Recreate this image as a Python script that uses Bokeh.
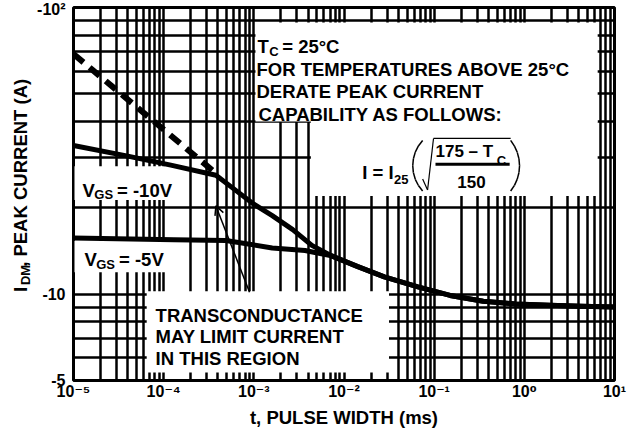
import math
from bokeh.plotting import figure
from bokeh.layouts import row
from bokeh.models import FixedTicker, Label, BoxAnnotation, Arrow, OpenHead
from bokeh.embed import file_html
from bokeh.resources import INLINE

# ---------------- data (t in ms, |I_DM| in A; axis shows negative currents) ----------------
t_vgs10 = [1e-5, 4e-5, 1.2e-4, 3.8e-4, 6e-4, 1e-3, 1.6e-3, 2.7e-3, 4.4e-3, 7.3e-3,
           1.4e-2, 2.8e-2, 6.6e-2, 0.15, 0.35, 0.8, 1.9, 4.3, 10]
i_vgs10 = [33.0, 30.3, 28.2, 26.0, 23.3, 20.6, 18.8, 16.8, 14.8, 13.6,
           12.5, 11.5, 10.6, 9.9, 9.45, 9.25, 9.15, 9.08, 9.02]

t_vgs5 = [1e-5, 1.3e-4, 4.9e-4, 1.6e-3, 3.7e-3, 7.3e-3,
          1.4e-2, 2.8e-2, 6.6e-2, 0.15, 0.35, 0.8, 1.9, 4.3, 10]
i_vgs5 = [15.7, 15.5, 15.4, 14.5, 14.2, 13.6,
          12.5, 11.5, 10.6, 9.9, 9.45, 9.25, 9.15, 9.08, 9.02]

t_transcond = [1e-5, 3.8e-4]
i_transcond = [68.8, 26.4]

x_ticks = [1e-5, 1e-4, 1e-3, 1e-2, 1e-1, 1e0, 1e1]
x_tick_labels = ["10\u207b\u2075", "10\u207b\u2074", "10\u207b\u00b3", "10\u207b\u00b2",
                 "10\u207b\u00b9", "10\u2070", "10\u00b9"]
y_ticks = [5, 10, 100]
y_tick_labels = ["-5", "-10", "-10\u00b2"]

x_minor = [m * d for d in [1e-5, 1e-4, 1e-3, 1e-2, 1e-1, 1e0] for m in range(2, 10)]
y_minor = [6, 7, 8, 9, 20, 30, 40, 50, 60, 70, 80, 90]

x_title = "t, PULSE WIDTH (ms)"

FONT = "Liberation Sans"
TICK_FONT = "Liberation Sans, DejaVu Sans"
NOTE = 18.5

# reference-picture geometry, used only to place annotations
RX0, RX1, RY0, RY1 = 79.0, 626.0, 13.0, 389.0
def dx(px):
    return 10 ** (-5 + 6 * (px - RX0) / (RX1 - RX0))
def dy(py):
    return 5 * 10 ** (math.log10(20) * (RY1 - py) / (RY1 - RY0))

TOTAL_W = 627
LAB_W = 34
H = 430
FRAME_L, FRAME_R = 79, 622      # page pixels of the plot frame

p = figure(width=TOTAL_W - LAB_W, height=H, x_axis_type="log", y_axis_type="log",
           x_range=(1e-5, 10), y_range=(5, 100),
           output_backend="svg", toolbar_location=None,
           min_border_left=FRAME_L - 8 - LAB_W, min_border_right=8 + TOTAL_W - FRAME_R,
           min_border_top=7, min_border_bottom=49)
p.background_fill_color = "white"
p.border_fill_color = "white"
p.outline_line_color = "black"
p.outline_line_width = 3

p.xaxis.ticker = FixedTicker(ticks=x_ticks, minor_ticks=x_minor)
p.yaxis.ticker = FixedTicker(ticks=y_ticks, minor_ticks=y_minor)
p.xaxis.major_label_overrides = {v: s for v, s in zip(x_ticks, x_tick_labels)}
p.yaxis.major_label_overrides = {v: s for v, s in zip(y_ticks, y_tick_labels)}
for ax in (p.xaxis, p.yaxis):
    ax.axis_line_color = None
    ax.major_tick_line_color = None
    ax.minor_tick_line_color = None
    ax.major_tick_out = 0
    ax.minor_tick_out = 0
    ax.major_tick_in = 0
    ax.minor_tick_in = 0
    ax.major_label_text_font = TICK_FONT
    ax.major_label_text_font_style = "bold"
    ax.major_label_text_font_size = "16px"
    ax.major_label_text_color = "black"
    ax.major_label_text_line_height = 1.0
p.xaxis.major_label_standoff = 2
p.yaxis.major_label_standoff = 8
p.xaxis.axis_label = x_title
p.xaxis.axis_label_text_font = FONT
p.xaxis.axis_label_text_font_style = "bold"
p.xaxis.axis_label_text_font_size = "18.5px"
p.xaxis.axis_label_text_color = "black"
p.xaxis.axis_label_text_line_height = 1.0
p.xaxis.axis_label_standoff = 4

for g in (p.xgrid, p.ygrid):
    g.grid_line_color = "black"
    g.grid_line_alpha = 1
    g.grid_line_width = 2.5
    g.minor_grid_line_color = "black"
    g.minor_grid_line_alpha = 1
    g.minor_grid_line_width = 2.5

# white backgrounds behind the notes (cover the grid)
def wbox(x0, x1, y0, y1):
    b = BoxAnnotation(left=dx(x0), right=dx(x1), top=dy(y0), bottom=dy(y1),
                      fill_color="white", fill_alpha=1, line_color=None, level="underlay")
    p.add_layout(b)

wbox(263, 609, 28, 128)
wbox(319, 609, 127, 203)
wbox(80, 193, 173, 207)
wbox(80, 180, 248, 280)
wbox(153, 398, 299, 381)

# curves
p.line(t_transcond, i_transcond, line_color="black", line_width=6, line_dash="13 8")
p.line(t_vgs5, i_vgs5, line_color="black", line_width=5, line_join="round", line_cap="round")
p.line(t_vgs10, i_vgs10, line_color="black", line_width=5, line_join="round", line_cap="round")

def txt(s, px, py, size=NOTE, style="bold"):
    p.add_layout(Label(x=dx(px), y=dy(py), text=s, text_font=FONT, text_font_style=style,
                       text_font_size=f"{size}px", text_color="black",
                       text_align="left", text_baseline="alphabetic"))

def seg(x0, y0, x1, y1, w):
    p.add_layout(Arrow(end=None, x_start=dx(x0), y_start=dy(y0), x_end=dx(x1), y_end=dy(y1),
                       line_color="black", line_width=w))

def paren(x_mid, x_end, y_top, y_bot, w=1.5, n=8):
    half = (y_bot - y_top) / 2.0
    sag = x_end - x_mid
    r = (half * half + sag * sag) / (2 * abs(sag))
    cy = (y_top + y_bot) / 2.0
    cx = x_mid + math.copysign(r, sag)
    phi = math.asin(half / r)
    pts = []
    for k in range(n + 1):
        a = -phi + 2 * phi * k / n
        pts.append((cx - math.copysign(r, sag) * math.cos(a), cy + r * math.sin(a)))
    for (a0, b0), (a1, b1) in zip(pts[:-1], pts[1:]):
        seg(a0, b0, a1, b1, w)

# derating note
txt("T", 265, 52)
txt("C", 277, 57, 13)
txt("= 25\u00b0C", 290, 52)
txt("FOR TEMPERATURES ABOVE 25\u00b0C", 264, 75)
txt("DERATE PEAK CURRENT", 264, 98)
txt("CAPABILITY AS FOLLOWS:", 266, 121)
txt("I = I", 371, 179)
txt("25", 403, 186, 13)
txt("175 \u2013 T", 445, 158, 17)
txt("C", 507, 167, 13)
txt("150", 467, 189, 17)
paren(422, 432, 147, 198)
paren(530, 521, 147, 198)
seg(432, 186, 437, 197, 1.2)
seg(437, 197, 443, 145, 1.2)
seg(443, 145, 521, 145, 1.2)
seg(445, 171, 520, 171, 3)

# curve labels
txt("V", 88, 197)
txt("GS", 100, 202, 13)
txt("= -10V", 123, 197)
txt("V", 90, 267)
txt("GS", 102, 272, 13)
txt("= -5V", 125, 267)

# transconductance note
txt("TRANSCONDUCTANCE", 162, 323)
txt("MAY LIMIT CURRENT", 162, 345)
txt("IN THIS REGION", 162, 367)
p.add_layout(Arrow(end=OpenHead(size=9, line_width=1.5, line_color="black"),
                   x_start=dx(257), y_start=dy(300), x_end=dx(223), y_end=dy(213),
                   line_color="black", line_width=1.5))

# ---------------- y-axis title (with subscript) in a narrow strip on the left ----------------
lab = figure(width=LAB_W, height=H, x_range=(0, LAB_W), y_range=(0, H),
             output_backend="svg", toolbar_location=None, min_border=0)
lab.axis.visible = False
lab.grid.visible = False
lab.outline_line_color = None
lab.background_fill_color = "white"
lab.border_fill_color = "white"

def ylab(s, px, py, size):
    lab.add_layout(Label(x=px - 8, y=(H + 8) - py, text=s, text_font=FONT,
                         text_font_style="bold", text_font_size=f"{size}px",
                         text_color="black", angle=math.pi / 2,
                         text_align="left", text_baseline="alphabetic"))

ylab("I", 28, 336, 18.5)
ylab("DM", 33, 328, 13)
ylab(", PEAK CURRENT (A)", 28, 307, 18.5)

layout = row(lab, p)
open("out.html", "w").write(file_html(layout, INLINE))
